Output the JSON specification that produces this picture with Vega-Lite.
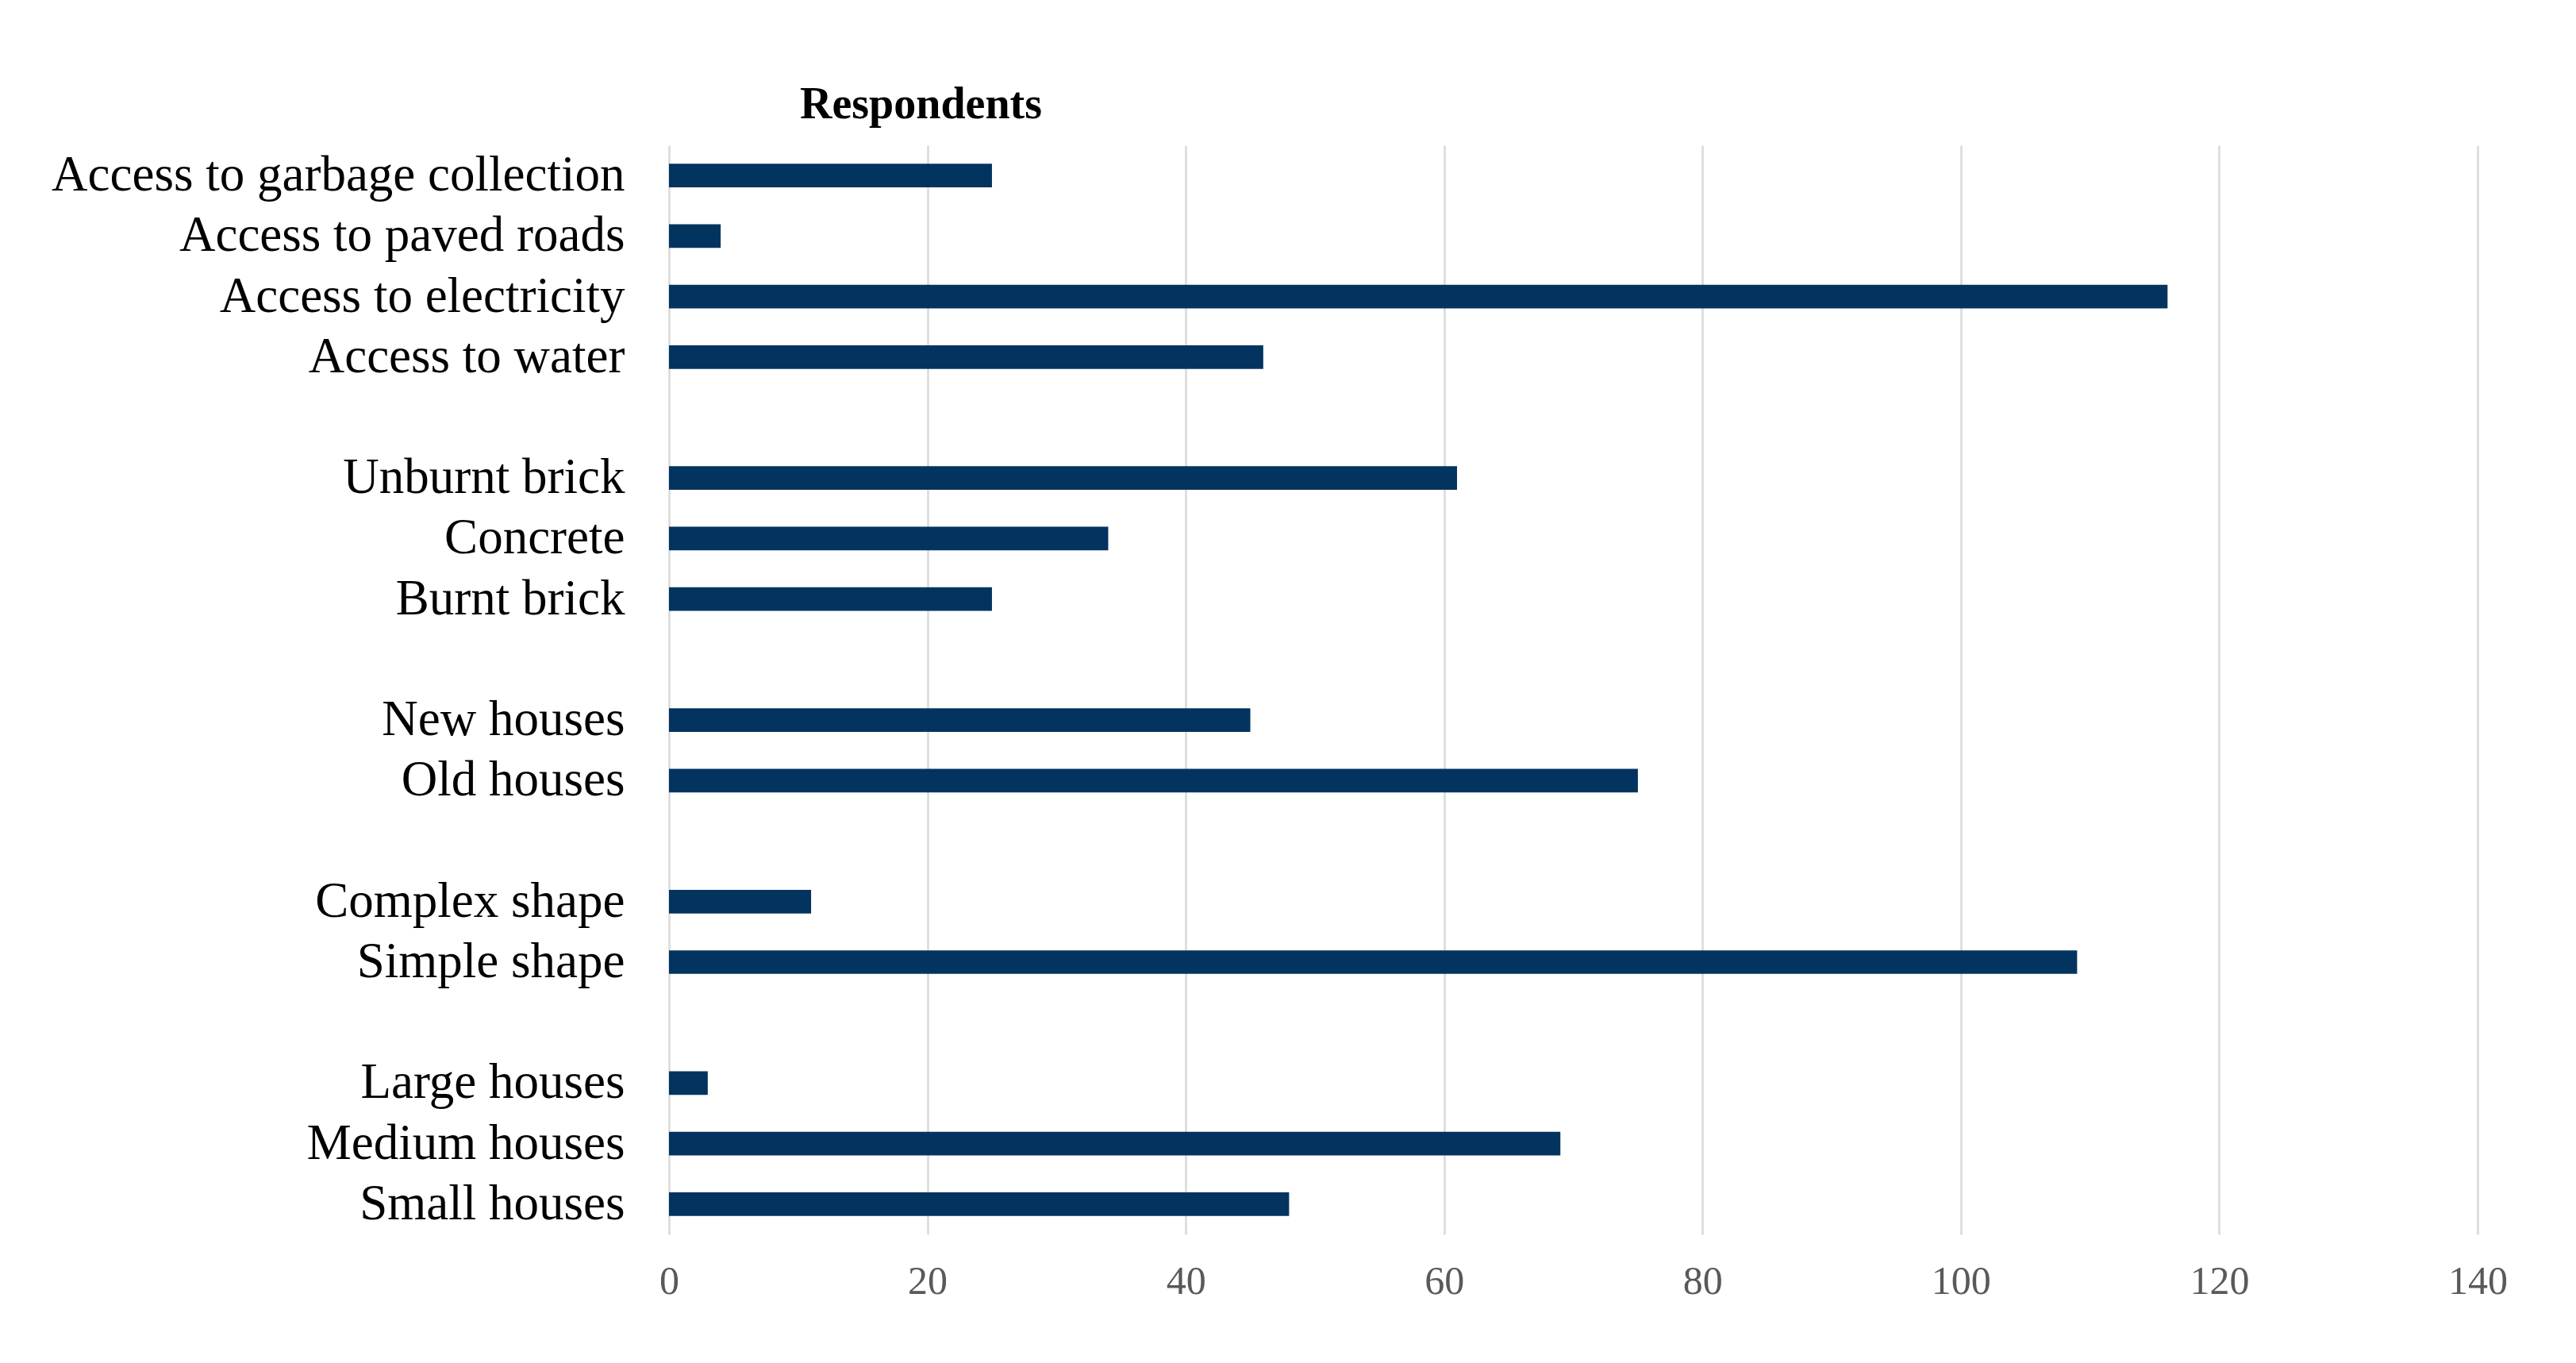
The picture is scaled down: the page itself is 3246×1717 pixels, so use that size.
{
  "$schema": "https://vega.github.io/schema/vega-lite/v6.json",
  "width": 2279,
  "height": 1372,
  "autosize": {"type": "none"},
  "padding": {"left": 843, "top": 183, "right": 124, "bottom": 162},
  "background": "white",
  "title": {"text": "Respondents", "anchor": "start", "frame": "group", "dx": 165, "offset": 22, "font": "Liberation Serif", "fontSize": 56, "fontWeight": "bold", "color": "black"},
  "data": {"values": [
    {"category": "Access to garbage collection", "respondents": 25},
    {"category": "Access to paved roads", "respondents": 4},
    {"category": "Access to electricity", "respondents": 116},
    {"category": "Access to water", "respondents": 46},
    {"category": "Unburnt brick", "respondents": 61},
    {"category": "Concrete", "respondents": 34},
    {"category": "Burnt brick", "respondents": 25},
    {"category": "New houses", "respondents": 45},
    {"category": "Old houses", "respondents": 75},
    {"category": "Complex shape", "respondents": 11},
    {"category": "Simple shape", "respondents": 109},
    {"category": "Large houses", "respondents": 3},
    {"category": "Medium houses", "respondents": 69},
    {"category": "Small houses", "respondents": 48}
  ]},
  "mark": {"type": "bar", "color": "#03345f"},
  "encoding": {
    "y": {
      "field": "category", "type": "nominal", "sort": null,
      "scale": {"domain": ["Access to garbage collection", "Access to paved roads", "Access to electricity", "Access to water", " ", "Unburnt brick", "Concrete", "Burnt brick", "  ", "New houses", "Old houses", "   ", "Complex shape", "Simple shape", "    ", "Large houses", "Medium houses", "Small houses"], "paddingInner": 0.61, "paddingOuter": 0.305},
      "axis": {"title": null, "ticks": false, "tickSize": 0, "domain": false, "grid": false, "labelPadding": 56, "labelFont": "Liberation Serif", "labelFontSize": 63, "labelColor": "black", "labelLimit": 1500}
    },
    "x": {
      "field": "respondents", "type": "quantitative",
      "scale": {"domain": [0, 140], "nice": false},
      "axis": {"title": null, "values": [0, 20, 40, 60, 80, 100, 120, 140], "domain": false, "ticks": false, "tickSize": 0, "grid": true, "gridColor": "#d9d9d9", "gridWidth": 2.5, "labelFont": "Liberation Serif", "labelFontSize": 50, "labelColor": "#595959", "labelPadding": 34, "labelFlush": false}
    }
  },
  "config": {"view": {"stroke": null}}
}
